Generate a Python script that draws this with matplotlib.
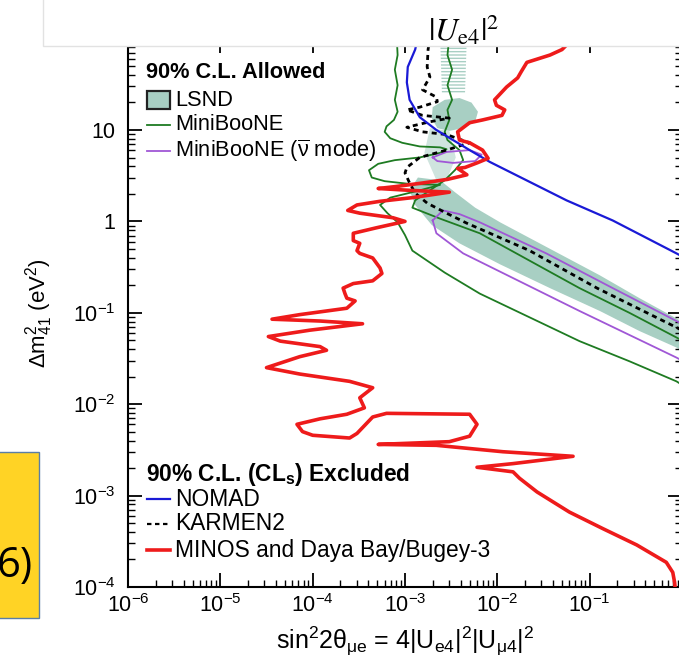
import numpy as np
import matplotlib
matplotlib.use("Agg")
import matplotlib.pyplot as plt
from matplotlib.patches import Rectangle

plt.rcParams['font.family'] = ['Liberation Sans', 'DejaVu Sans']
plt.rcParams['mathtext.fontset'] = 'custom'
plt.rcParams['mathtext.rm'] = 'Liberation Sans'
plt.rcParams['mathtext.it'] = 'Liberation Sans'
plt.rcParams['mathtext.bf'] = 'Liberation Sans:bold'
plt.rcParams['mathtext.sf'] = 'Liberation Sans'

# ---- contour data: log10(sin^2 2theta_mue), log10(dm2_41 / eV^2) ----
minos_log_s2t = [-1.16, -1.30, -1.43, -1.68, -1.74, -1.78, -1.90, -2.03, -2.01, -1.92,
                 -1.95, -2.16, -2.30, -2.43, -2.41, -2.30, -2.16, -2.10, -2.22, -2.35,
                 -2.43, -2.33, -2.54, -2.81, -3.11, -3.29, -2.95, -2.52, -2.92, -3.27,
                 -3.52, -3.62, -3.49, -3.13, -3.00, -3.31, -3.56, -3.56, -3.49, -3.52,
                 -3.49, -3.35, -3.27, -3.25, -3.35, -3.56, -3.67, -3.65, -3.63, -3.54,
                 -3.63, -4.14, -4.44, -3.92, -3.46, -4.03, -4.48, -4.35, -3.92, -3.85,
                 -4.14, -4.50, -4.14, -3.60, -3.35, -3.49, -3.44, -3.63, -3.92, -4.17,
                 -4.11, -4.00, -3.60, -3.52, -3.35, -3.20, -2.30, -2.22, -2.30, -2.52,
                 -3.29, -2.66, -1.94, -1.18, -1.83, -2.22, -1.83, -1.76, -1.57, -1.22,
                 -0.86, -0.49, -0.17, -0.10, -0.08, -0.07]
minos_log_dm2 = [2.02, 1.88, 1.82, 1.74, 1.64, 1.57, 1.47, 1.33, 1.27, 1.22,
                 1.16, 1.11, 1.08, 0.98, 0.89, 0.86, 0.78, 0.69, 0.64, 0.59,
                 0.58, 0.51, 0.46, 0.42, 0.38, 0.36, 0.34, 0.32, 0.26, 0.22,
                 0.18, 0.12, 0.09, 0.04, 0.00, -0.07, -0.13, -0.21, -0.24, -0.32,
                 -0.35, -0.40, -0.51, -0.57, -0.65, -0.68, -0.73, -0.79, -0.84, -0.87,
                 -0.95, -1.02, -1.07, -1.09, -1.12, -1.19, -1.26, -1.31, -1.37, -1.41,
                 -1.48, -1.60, -1.67, -1.75, -1.82, -1.93, -2.04, -2.11, -2.16, -2.22,
                 -2.30, -2.34, -2.37, -2.32, -2.14, -2.10, -2.11, -2.22, -2.35, -2.41,
                 -2.44, -2.45, -2.52, -2.57, -2.65, -2.69, -2.74, -2.81, -2.96, -3.18,
                 -3.36, -3.54, -3.73, -3.84, -3.95, -4.05]

nomad_log_s2t = [-2.86, -2.89, -2.97, -2.98, -2.95, -2.84, -2.66, -2.48, -2.30, -2.08,
                 -1.25, -0.75, -0.06, 0.05]
nomad_log_dm2 = [2.02, 1.88, 1.69, 1.52, 1.33, 1.14, 1.00, 0.89, 0.78, 0.65,
                 0.23, 0.01, -0.35, -0.41]

karmen_log_s2t = [-2.73, -2.75, -2.76, -2.73, -2.81, -2.66, -2.65, -2.84, -2.98, -2.81,
                  -2.52, -2.73, -2.98, -2.81, -2.55, -2.30, -2.55, -2.84, -2.98, -3.00,
                  -2.95, -2.89, -2.76, -2.55, -2.33, -2.08, -1.65, -0.92, -0.06, 0.05]
karmen_log_dm2 = [2.02, 1.88, 1.69, 1.58, 1.44, 1.36, 1.31, 1.25, 1.22, 1.16,
                  1.13, 1.09, 1.03, 0.98, 0.95, 0.86, 0.78, 0.70, 0.59, 0.53,
                  0.42, 0.31, 0.20, 0.09, -0.02, -0.13, -0.32, -0.73, -1.16, -1.22]

mb_left_log_s2t = [-3.09, -3.08, -3.11, -3.08, -3.11, -3.08, -3.12, -3.20, -3.22, -3.16,
                   -3.03, -2.84, -2.62, -2.55, -2.62, -2.84, -3.11, -3.29, -3.39, -3.36,
                   -3.22, -2.95, -2.62, -2.84, -3.16, -3.27, -3.19, -3.08, -3.00, -2.92,
                   -2.57, -2.19, -1.65, -1.11, -0.57, -0.06, 0.05]
mb_left_log_dm2 = [2.02, 1.82, 1.66, 1.49, 1.33, 1.20, 1.11, 1.04, 0.98, 0.91,
                   0.86, 0.82, 0.81, 0.79, 0.75, 0.70, 0.67, 0.63, 0.56, 0.48,
                   0.44, 0.41, 0.40, 0.34, 0.26, 0.18, 0.09, -0.01, -0.15, -0.32,
                   -0.56, -0.79, -1.05, -1.31, -1.53, -1.75, -1.82]
mb_right_log_s2t = [-2.52, -2.54, -2.49, -2.54, -2.49, -2.54, -2.52, -2.57, -2.54, -2.41,
                    -2.37, -2.46, -2.57, -2.73, -2.89, -2.92, -2.62, -2.19, -1.65, -1.11,
                    -0.57, -0.06, 0.05]
mb_right_log_dm2 = [2.02, 1.82, 1.66, 1.49, 1.33, 1.22, 1.11, 0.98, 0.89, 0.78,
                    0.67, 0.56, 0.45, 0.34, 0.23, 0.15, 0.03, -0.13, -0.43, -0.73,
                    -1.00, -1.27, -1.33]

mbbar_loop_log_s2t = [-2.70, -2.55, -2.30, -2.17, -2.24, -2.48, -2.65, -2.70]
mbbar_loop_log_dm2 = [0.70, 0.76, 0.78, 0.73, 0.66, 0.64, 0.66, 0.70]
mbbar_band_log_s2t = [-2.70, -2.59, -2.41, -2.19, -1.47, -0.75, -0.06, 0.05,
                      0.05, -0.06, -1.11, -1.83, -2.37, -2.66, -2.70]
mbbar_band_log_dm2 = [0.01, 0.12, 0.08, -0.01, -0.35, -0.73, -1.09, -1.15,
                      -1.55, -1.49, -0.98, -0.62, -0.35, -0.13, 0.01]

# LSND: island near 20 eV^2, main band below ~3 eV^2, sparse strip above
lsnd_island_log_s2t = [-2.70, -2.57, -2.41, -2.28, -2.21, -2.24, -2.37, -2.52, -2.65, -2.71]
lsnd_island_log_dm2 = [1.25, 1.33, 1.35, 1.30, 1.20, 1.09, 1.02, 0.99, 1.02, 1.13]
lsnd_band_log_s2t = [-2.86, -2.62, -2.46, -2.24, -1.97, -1.43, -0.89, -0.46, 0.19,
                     0.19, -0.06, -0.46, -0.89, -1.43, -1.97, -2.41, -2.71, -2.89, -2.95]
lsnd_band_log_dm2 = [0.48, 0.45, 0.32, 0.15, -0.01, -0.30, -0.59, -0.84, -1.20,
                     -1.53, -1.38, -1.20, -0.98, -0.73, -0.47, -0.24, -0.04, 0.18, 0.34]
lsnd_waist_log_s2t = [-2.73, -2.52, -2.45, -2.55, -2.66, -2.79]
lsnd_waist_log_dm2 = [1.02, 0.99, 0.70, 0.45, 0.45, 0.75]
lsnd_top_log_s2t = [-2.62, -2.33, -2.35, -2.60]
lsnd_top_log_dm2 = [2.02, 2.02, 1.40, 1.40]

# ---- axis ticks ----
x_ticks = [1e-6, 1e-5, 1e-4, 1e-3, 1e-2, 1e-1, 1.0]
x_tick_labels = ['$10^{-6}$', '$10^{-5}$', '$10^{-4}$', '$10^{-3}$', '$10^{-2}$', '$10^{-1}$', '']
y_ticks = [1e-4, 1e-3, 1e-2, 1e-1, 1.0, 10.0, 100.0]
y_tick_labels = ['$10^{-4}$', '$10^{-3}$', '$10^{-2}$', '$10^{-1}$', '1', '10', '']

RED = '#ee1b1b'
GREEN = '#1e7b22'
BLUE = '#1a1ad6'
PURPLE = '#a057d6'
LSND_FILL = '#a8cfc3'
TOP_FS = 15.7
BOT_FS = 16.4


def pw(a):
    return np.power(10.0, np.asarray(a))


fig = plt.figure(figsize=(6.79, 6.60), dpi=100)
W, H = 679.0, 660.0
ax = fig.add_axes([128 / W, 73 / H, 554 / W, 548.4 / H])
ax.set_xscale('log')
ax.set_yscale('log')
ax.set_xlim(1e-6, 1.0)
ax.set_ylim(1e-4, 1e2)

# LSND allowed region
ax.fill(pw(lsnd_island_log_s2t), pw(lsnd_island_log_dm2), color=LSND_FILL, lw=0, zorder=1)
ax.fill(pw(lsnd_band_log_s2t), pw(lsnd_band_log_dm2), color=LSND_FILL, lw=0, zorder=1)
ax.fill(pw(lsnd_waist_log_s2t), pw(lsnd_waist_log_dm2), color=LSND_FILL, alpha=0.55,
        lw=0, zorder=1)
ax.fill(pw(lsnd_top_log_s2t), pw(lsnd_top_log_dm2), facecolor='none', edgecolor=LSND_FILL,
        hatch='-----', lw=0, zorder=1)

# MiniBooNE (neutrino + antineutrino) boundaries
ax.plot(pw(mb_left_log_s2t), pw(mb_left_log_dm2), color=GREEN, lw=1.3, zorder=3)
ax.plot(pw(mb_right_log_s2t), pw(mb_right_log_dm2), color=GREEN, lw=1.3, zorder=3)
ax.plot(pw(mbbar_loop_log_s2t), pw(mbbar_loop_log_dm2), color=PURPLE, lw=1.3, zorder=3)
ax.plot(pw(mbbar_band_log_s2t), pw(mbbar_band_log_dm2), color=PURPLE, lw=1.3, zorder=3)

# exclusion limits
ax.plot(pw(karmen_log_s2t), pw(karmen_log_dm2), color='black', lw=2.0,
        dashes=(1.8, 1.5), zorder=4)
ax.plot(pw(nomad_log_s2t), pw(nomad_log_dm2), color=BLUE, lw=1.6, zorder=5)
ax.plot(pw(minos_log_s2t), pw(minos_log_dm2), color=RED, lw=2.6, zorder=6,
        solid_joinstyle='round')

# ticks and frame
ax.set_xticks(x_ticks)
ax.set_xticklabels(x_tick_labels)
ax.set_yticks(y_ticks)
ax.set_yticklabels(y_tick_labels)
ax.xaxis.set_minor_locator(matplotlib.ticker.LogLocator(base=10, subs=np.arange(2, 10), numticks=20))
ax.yaxis.set_minor_locator(matplotlib.ticker.LogLocator(base=10, subs=np.arange(2, 10), numticks=20))
ax.xaxis.set_minor_formatter(matplotlib.ticker.NullFormatter())
ax.yaxis.set_minor_formatter(matplotlib.ticker.NullFormatter())
ax.tick_params(which='both', direction='in', top=True, right=True, labelsize=15.5,
               colors='black')
ax.tick_params(which='major', length=10, width=1.3)
ax.tick_params(which='minor', length=5, width=1.0)
ax.tick_params(axis='x', pad=5)
ax.tick_params(axis='y', pad=9)
for s in ax.spines.values():
    s.set_linewidth(1.5)

ax.set_xlabel(r'sin$^2$2$\theta_{\mu\mathrm{e}}$ = 4|U$_{\mathrm{e}4}$|$^2$|U$_{\mu 4}$|$^2$',
              fontsize=18, labelpad=6)
ax.set_ylabel(r'$\Delta$m$^2_{41}$ (eV$^2$)', fontsize=16, labelpad=13)


# legend blocks (axes coordinates)
def to_ax(px, py):
    return (px - 128) / 554.0, (587 - py) / 548.4


def header(py, text, fs):
    x, y = to_ax(146, py)
    ax.text(x, y, text, transform=ax.transAxes, fontsize=fs, fontweight='bold',
            ha='left', va='center', zorder=10)


def entry(py, text, fs, **style):
    x0, y = to_ax(147, py)
    x1, _ = to_ax(170, py)
    xt, _ = to_ax(175, py)
    ax.plot([x0, x1], [y, y], transform=ax.transAxes, clip_on=False, zorder=10, **style)
    ax.text(xt, y, text, transform=ax.transAxes, fontsize=fs, ha='left', va='center',
            zorder=10)


header(72, '90% C.L. Allowed', TOP_FS)
px0, py0 = to_ax(147, 109)
px1, py1 = to_ax(170, 91)
ax.add_patch(Rectangle((px0, py0), px1 - px0, py1 - py0, transform=ax.transAxes,
                       facecolor=LSND_FILL, edgecolor='#222222', lw=1.6, zorder=10))
xt, yt = to_ax(175, 100)
ax.text(xt, yt, 'LSND', transform=ax.transAxes, fontsize=TOP_FS, ha='left', va='center', zorder=10)
entry(125, 'MiniBooNE', TOP_FS, color=GREEN, lw=1.3)
entry(151, r'MiniBooNE ($\overline{\nu}$ mode)', TOP_FS, color=PURPLE, lw=1.3)

header(475, r'90% C.L. (CL$_\mathbf{s}$) Excluded', BOT_FS)
entry(499, 'NOMAD', BOT_FS, color=BLUE, lw=1.6)
entry(524, 'KARMEN2', BOT_FS, color='black', lw=1.6, dashes=(2.0, 1.6))
entry(550, 'MINOS and Daya Bay/Bugey-3', BOT_FS, color=RED, lw=2.6)

# overlay strip along the top with the mixing-element label
fig.add_artist(Rectangle((43 / W, (H - 46) / H), 1.0, 60 / H, transform=fig.transFigure,
                         facecolor='white', edgecolor='#e2e2e2', lw=1.0, zorder=20))
fig.text(464 / W, (H - 30) / H, r'$|U_{\mathrm{e}4}|^2$', math_fontfamily='stix',
         fontsize=23, ha='center', va='center', zorder=21)

# yellow callout at the left edge
fig.add_artist(Rectangle((-5 / W, (H - 618) / H), 44 / W, 166 / H, transform=fig.transFigure,
                         facecolor='#ffd325', edgecolor='#5a7ea6', lw=1.0, zorder=20))
fig.text(33 / W, (H - 566) / H, '6)', fontsize=30, family='Open Sans', ha='right',
         va='center', zorder=21)

fig.savefig('out.png', dpi=100, facecolor='white')
